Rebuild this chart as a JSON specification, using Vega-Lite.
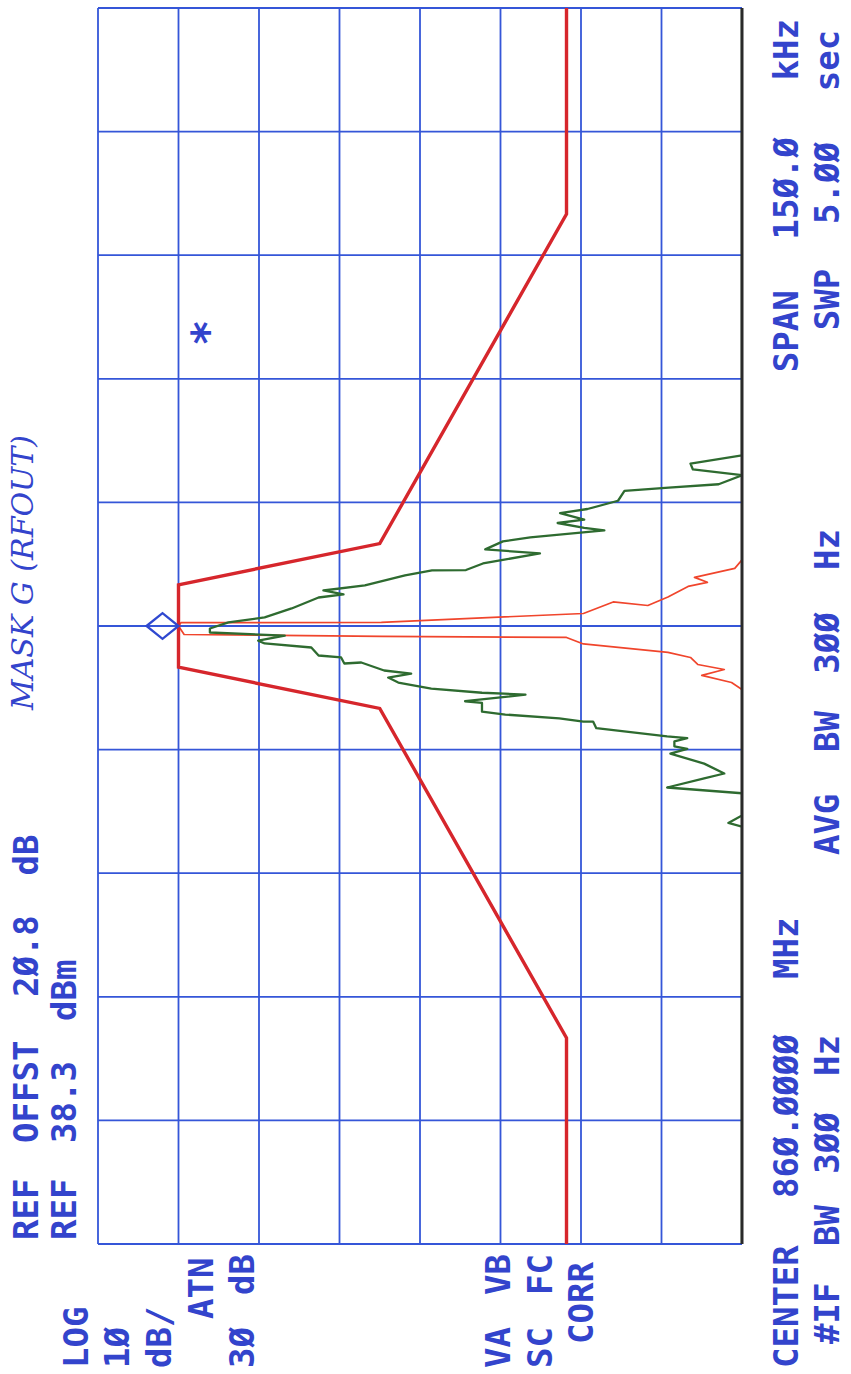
{
  "$schema": "https://vega.github.io/schema/vega-lite/v6.json",
  "width": 644,
  "height": 1236,
  "autosize": {"type": "none"},
  "padding": {"left": 98, "top": 8, "right": 109, "bottom": 130},
  "background": "#ffffff",
  "config": {"view": {"stroke": null}},
  "datasets": {
    "grid_level": [
      {"dbm": 38.3}, {"dbm": 28.3}, {"dbm": 18.3}, {"dbm": 8.3}, {"dbm": -1.7},
      {"dbm": -11.7}, {"dbm": -21.7}, {"dbm": -31.7}, {"dbm": -41.7}
    ],
    "grid_freq": [
      {"khz": -75}, {"khz": -60}, {"khz": -45}, {"khz": -30}, {"khz": -15}, {"khz": 0},
      {"khz": 15}, {"khz": 30}, {"khz": 45}, {"khz": 60}, {"khz": 75}
    ],
    "mask": [
      {"khz": -75, "dbm": -19.9}, {"khz": -50, "dbm": -19.9}, {"khz": -10, "dbm": 3.3},
      {"khz": -5, "dbm": 28.3}, {"khz": 5, "dbm": 28.3}, {"khz": 10, "dbm": 3.3},
      {"khz": 50, "dbm": -19.9}, {"khz": 75, "dbm": -19.9}
    ],
    "trace_narrow": [
      {"khz": -75, "dbm": -41.7}, {"khz": -7.7, "dbm": -41.7}, {"khz": -6.86, "dbm": -40.4},
      {"khz": -6.0, "dbm": -36.7}, {"khz": -5.28, "dbm": -39.5}, {"khz": -4.67, "dbm": -36.2},
      {"khz": -3.82, "dbm": -35.3}, {"khz": -3.2, "dbm": -32.5}, {"khz": -2.18, "dbm": -22.0},
      {"khz": -1.39, "dbm": -19.9}, {"khz": -1.27, "dbm": 3.1}, {"khz": -1.03, "dbm": 27.6},
      {"khz": 0.0, "dbm": 28.3}, {"khz": 0.4, "dbm": 28.0}, {"khz": 0.45, "dbm": 3.1},
      {"khz": 1.52, "dbm": -22.0}, {"khz": 2.92, "dbm": -25.7}, {"khz": 2.49, "dbm": -30.0},
      {"khz": 3.52, "dbm": -32.5}, {"khz": 4.8, "dbm": -35.0}, {"khz": 5.3, "dbm": -37.4},
      {"khz": 5.9, "dbm": -35.8}, {"khz": 6.99, "dbm": -40.8}, {"khz": 8.02, "dbm": -41.7},
      {"khz": 75, "dbm": -41.7}
    ],
    "trace_wide": [
      {"khz": -75, "dbm": -41.7}, {"khz": -24.35, "dbm": -41.7}, {"khz": -23.9, "dbm": -40.0},
      {"khz": -23.0, "dbm": -41.7}, {"khz": -20.3, "dbm": -41.7}, {"khz": -19.6, "dbm": -32.4},
      {"khz": -18.5, "dbm": -37.0}, {"khz": -17.9, "dbm": -39.5}, {"khz": -16.7, "dbm": -37.0},
      {"khz": -15.5, "dbm": -32.8}, {"khz": -14.9, "dbm": -34.9}, {"khz": -14.6, "dbm": -33.3},
      {"khz": -14.0, "dbm": -33.3}, {"khz": -13.6, "dbm": -34.9}, {"khz": -13.4, "dbm": -32.4},
      {"khz": -12.4, "dbm": -23.6}, {"khz": -11.6, "dbm": -23.2}, {"khz": -11.6, "dbm": -22.0},
      {"khz": -11.2, "dbm": -19.0}, {"khz": -10.75, "dbm": -12.3}, {"khz": -10.4, "dbm": -9.4},
      {"khz": -9.34, "dbm": -9.4}, {"khz": -9.13, "dbm": -7.3}, {"khz": -8.33, "dbm": -14.8},
      {"khz": -8.1, "dbm": -9.4}, {"khz": -7.6, "dbm": -3.1}, {"khz": -6.86, "dbm": 1.0},
      {"khz": -6.26, "dbm": 2.25}, {"khz": -5.77, "dbm": -0.6}, {"khz": -5.4, "dbm": 2.75},
      {"khz": -4.43, "dbm": 5.6}, {"khz": -4.55, "dbm": 7.7}, {"khz": -3.82, "dbm": 8.1},
      {"khz": -3.58, "dbm": 10.9}, {"khz": -2.61, "dbm": 11.8}, {"khz": -2.12, "dbm": 17.6},
      {"khz": -1.77, "dbm": 18.4}, {"khz": -1.16, "dbm": 15.1}, {"khz": -0.79, "dbm": 24.4},
      {"khz": -0.3, "dbm": 24.4}, {"khz": 0.43, "dbm": 22.1}, {"khz": 1.04, "dbm": 17.6},
      {"khz": 2.13, "dbm": 14.25}, {"khz": 3.46, "dbm": 10.9}, {"khz": 3.83, "dbm": 7.8},
      {"khz": 4.31, "dbm": 10.3}, {"khz": 4.92, "dbm": 5.15}, {"khz": 6.14, "dbm": 0.16},
      {"khz": 6.74, "dbm": -3.19}, {"khz": 6.79, "dbm": -7.41}, {"khz": 7.59, "dbm": -9.52},
      {"khz": 8.02, "dbm": -12.0}, {"khz": 8.81, "dbm": -16.6}, {"khz": 9.3, "dbm": -9.8},
      {"khz": 10.27, "dbm": -12.0}, {"khz": 10.75, "dbm": -15.4}, {"khz": 11.6, "dbm": -24.6},
      {"khz": 11.9, "dbm": -22.1}, {"khz": 12.5, "dbm": -18.8}, {"khz": 12.9, "dbm": -22.1},
      {"khz": 13.7, "dbm": -19.1}, {"khz": 14.2, "dbm": -22.5}, {"khz": 15.2, "dbm": -26.3},
      {"khz": 16.4, "dbm": -27.1}, {"khz": 16.8, "dbm": -32.6}, {"khz": 17.2, "dbm": -38.8},
      {"khz": 18.3, "dbm": -41.7}, {"khz": 19.0, "dbm": -35.6}, {"khz": 19.7, "dbm": -35.3},
      {"khz": 20.7, "dbm": -41.7}, {"khz": 75, "dbm": -41.7}
    ],
    "marker": [{"khz": 0, "dbm": 28.3}],
    "star": [{"khz": 35.6, "dbm": 24.4, "label": "*"}],
    "screen_text": [
      {"label": "REF", "dbm": 47.0, "khz": -74.52},
      {"label": "OFFST", "dbm": 47.0, "khz": -62.74},
      {"label": "2Ø.8", "dbm": 47.0, "khz": -45.03},
      {"label": "dB", "dbm": 47.0, "khz": -30.28},
      {"label": "REF", "dbm": 42.3, "khz": -74.52},
      {"label": "38.3", "dbm": 42.3, "khz": -62.74},
      {"label": "dBm", "dbm": 42.3, "khz": -47.94},
      {"label": "LOG", "dbm": 40.8, "khz": -90.05},
      {"label": "1Ø", "dbm": 35.7, "khz": -90.05},
      {"label": "dB/", "dbm": 30.5, "khz": -90.05},
      {"label": "ATN", "dbm": 25.3, "khz": -84.1},
      {"label": "3Ø", "dbm": 20.2, "khz": -90.05},
      {"label": "dB", "dbm": 20.2, "khz": -81.19},
      {"label": "VA", "dbm": -11.6, "khz": -90.05},
      {"label": "VB", "dbm": -11.6, "khz": -81.19},
      {"label": "SC", "dbm": -16.9, "khz": -90.05},
      {"label": "FC", "dbm": -16.9, "khz": -81.19},
      {"label": "CORR", "dbm": -22.0, "khz": -87.14},
      {"label": "CENTER", "dbm": -47.4, "khz": -90.05},
      {"label": "86Ø.ØØØØ", "dbm": -47.4, "khz": -69.42},
      {"label": "MHz", "dbm": -47.4, "khz": -42.84},
      {"label": "#IF", "dbm": -52.5, "khz": -87.14},
      {"label": "BW", "dbm": -52.5, "khz": -75.24},
      {"label": "3ØØ", "dbm": -52.5, "khz": -66.46},
      {"label": "Hz", "dbm": -52.5, "khz": -54.61},
      {"label": "AVG", "dbm": -52.5, "khz": -27.8},
      {"label": "BW", "dbm": -52.5, "khz": -15.3},
      {"label": "3ØØ", "dbm": -52.5, "khz": -5.8},
      {"label": "Hz", "dbm": -52.5, "khz": 6.8},
      {"label": "SPAN", "dbm": -47.4, "khz": 30.8},
      {"label": "15Ø.Ø", "dbm": -47.4, "khz": 46.9},
      {"label": "kHz", "dbm": -47.4, "khz": 66.2},
      {"label": "SWP", "dbm": -52.5, "khz": 35.9},
      {"label": "5.ØØ", "dbm": -52.5, "khz": 48.8},
      {"label": "sec", "dbm": -52.5, "khz": 64.9}
    ],
    "handwriting": [{"label": "MASK G (RFOUT)", "dbm": 47.5, "khz": -10.2}]
  },
  "layer": [
    {
      "data": {"name": "grid_level"},
      "mark": {"type": "rule", "color": "#3556d8", "strokeWidth": 1.8},
      "encoding": {
        "x": {"field": "dbm", "type": "quantitative", "scale": {"domain": [-41.7, 38.3], "reverse": true, "nice": false, "zero": false}, "axis": null}
      }
    },
    {
      "data": {"name": "grid_freq"},
      "mark": {"type": "rule", "color": "#3556d8", "strokeWidth": 1.8},
      "encoding": {
        "y": {"field": "khz", "type": "quantitative", "scale": {"domain": [-75, 75], "nice": false, "zero": false}, "axis": null}
      }
    },
    {
      "data": {"name": "trace_narrow"},
      "mark": {"type": "line", "color": "#f0452c", "strokeWidth": 1.7, "strokeJoin": "round", "clip": true},
      "encoding": {
        "x": {"field": "dbm", "type": "quantitative", "scale": {"domain": [-41.7, 38.3], "reverse": true, "nice": false, "zero": false}, "axis": null},
        "y": {"field": "khz", "type": "quantitative", "scale": {"domain": [-75, 75], "nice": false, "zero": false}, "axis": null},
        "order": {"value": null}
      }
    },
    {
      "data": {"name": "trace_wide"},
      "mark": {"type": "line", "color": "#2e6b30", "strokeWidth": 2.3, "strokeJoin": "round", "clip": true},
      "encoding": {
        "x": {"field": "dbm", "type": "quantitative", "scale": {"domain": [-41.7, 38.3], "reverse": true, "nice": false, "zero": false}, "axis": null},
        "y": {"field": "khz", "type": "quantitative", "scale": {"domain": [-75, 75], "nice": false, "zero": false}, "axis": null},
        "order": {"value": null}
      }
    },
    {
      "data": {"name": "mask"},
      "mark": {"type": "line", "color": "#d6262c", "strokeWidth": 3.4, "strokeJoin": "miter"},
      "encoding": {
        "x": {"field": "dbm", "type": "quantitative", "scale": {"domain": [-41.7, 38.3], "reverse": true, "nice": false, "zero": false}, "axis": null},
        "y": {"field": "khz", "type": "quantitative", "scale": {"domain": [-75, 75], "nice": false, "zero": false}, "axis": null},
        "order": {"value": null}
      }
    },
    {
      "data": {"values": [{"dbm": -41.7}]},
      "mark": {"type": "rule", "color": "#2a2a2a", "strokeWidth": 3},
      "encoding": {
        "x": {"field": "dbm", "type": "quantitative", "scale": {"domain": [-41.7, 38.3], "reverse": true, "nice": false, "zero": false}, "axis": null}
      }
    },
    {
      "data": {"name": "marker"},
      "mark": {"type": "point", "shape": "M-2,0L-1,-0.8L0,0L-1,0.8Z", "size": 1024, "filled": false, "color": "#2f48d0", "strokeWidth": 2.3, "opacity": 1},
      "encoding": {
        "x": {"field": "dbm", "type": "quantitative", "scale": {"domain": [-41.7, 38.3], "reverse": true, "nice": false, "zero": false}, "axis": null},
        "y": {"field": "khz", "type": "quantitative", "scale": {"domain": [-75, 75], "nice": false, "zero": false}, "axis": null}
      }
    },
    {
      "data": {"name": "star"},
      "mark": {"type": "text", "angle": 270, "align": "center", "baseline": "middle", "font": "DejaVu Sans Mono", "fontSize": 44, "fontWeight": "bold", "color": "#3344cc"},
      "encoding": {
        "x": {"field": "dbm", "type": "quantitative", "scale": {"domain": [-41.7, 38.3], "reverse": true, "nice": false, "zero": false}, "axis": null},
        "y": {"field": "khz", "type": "quantitative", "scale": {"domain": [-75, 75], "nice": false, "zero": false}, "axis": null},
        "text": {"field": "label"}
      }
    },
    {
      "data": {"name": "screen_text"},
      "mark": {"type": "text", "angle": 270, "align": "left", "baseline": "middle", "font": "DejaVu Sans Mono", "fontSize": 34, "fontWeight": "bold", "color": "#3344cc"},
      "encoding": {
        "x": {"field": "dbm", "type": "quantitative", "scale": {"domain": [-41.7, 38.3], "reverse": true, "nice": false, "zero": false}, "axis": null},
        "y": {"field": "khz", "type": "quantitative", "scale": {"domain": [-75, 75], "nice": false, "zero": false}, "axis": null},
        "text": {"field": "label"}
      }
    },
    {
      "data": {"name": "handwriting"},
      "mark": {"type": "text", "angle": 270, "align": "left", "baseline": "middle", "font": "DejaVu Serif", "fontStyle": "italic", "fontSize": 30, "color": "#3344cc"},
      "encoding": {
        "x": {"field": "dbm", "type": "quantitative", "scale": {"domain": [-41.7, 38.3], "reverse": true, "nice": false, "zero": false}, "axis": null},
        "y": {"field": "khz", "type": "quantitative", "scale": {"domain": [-75, 75], "nice": false, "zero": false}, "axis": null},
        "text": {"field": "label"}
      }
    }
  ]
}
